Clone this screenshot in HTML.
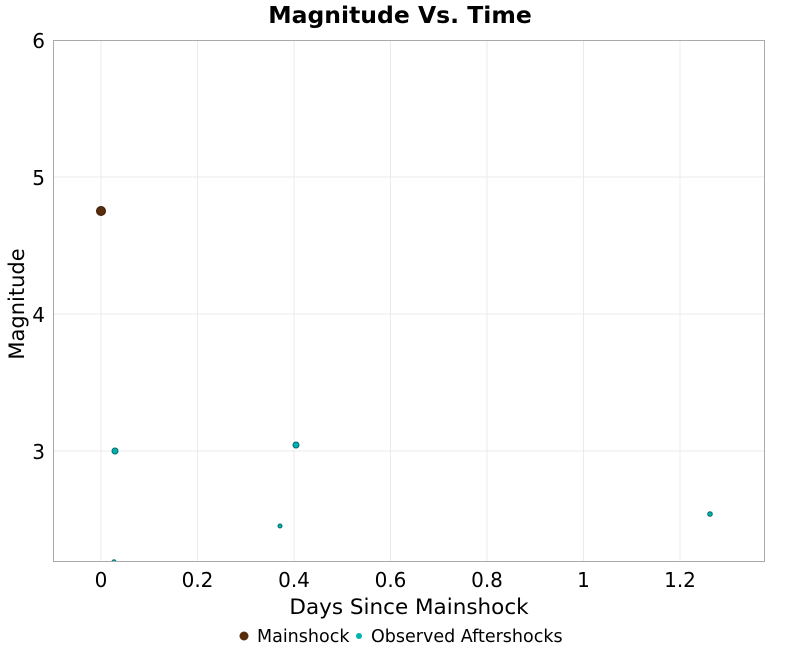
<!DOCTYPE html>
<html><head><style>body{margin:0;background:#fff}svg{display:block}</style></head><body>
<svg width="800" height="650" xmlns="http://www.w3.org/2000/svg" font-family="DejaVu Sans, Liberation Sans, sans-serif">
<rect width="800" height="650" fill="#fff"/>
<text x="400" y="23" text-anchor="middle" font-size="23.5" font-weight="bold">Magnitude Vs. Time</text>
<g stroke="#ebebeb" stroke-width="1">
<line x1="101" y1="40" x2="101" y2="562"/><line x1="197.5" y1="40" x2="197.5" y2="562"/><line x1="294" y1="40" x2="294" y2="562"/><line x1="390.5" y1="40" x2="390.5" y2="562"/><line x1="487" y1="40" x2="487" y2="562"/><line x1="583.5" y1="40" x2="583.5" y2="562"/><line x1="680" y1="40" x2="680" y2="562"/>
<line x1="53" y1="177" x2="765" y2="177"/><line x1="53" y1="314" x2="765" y2="314"/><line x1="53" y1="451" x2="765" y2="451"/>
</g>
<svg x="53" y="40" width="712" height="522" overflow="hidden">
<g fill="#00b3b3" stroke="#006b6b" stroke-width="1">
<circle cx="62" cy="411" r="3"/><circle cx="243" cy="405" r="3"/><circle cx="227" cy="486" r="2"/><circle cx="61" cy="522" r="2.2"/><circle cx="657" cy="474" r="2.3"/>
</g>
<circle cx="48" cy="171" r="4.5" fill="#5a2d0a" stroke="#3a1a05"/>
</svg>
<rect x="53.5" y="40.5" width="711" height="521" fill="none" stroke="#aaa"/>
<g font-size="20" text-anchor="end">
<text x="45" y="48">6</text><text x="45" y="185">5</text><text x="45" y="322">4</text><text x="45" y="459">3</text>
</g>
<g font-size="20" text-anchor="middle">
<text x="101" y="587">0</text><text x="197.5" y="587">0.2</text><text x="294" y="587">0.4</text><text x="390.5" y="587">0.6</text><text x="487" y="587">0.8</text><text x="583.5" y="587">1</text><text x="680" y="587">1.2</text>
</g>
<text x="409" y="614" text-anchor="middle" font-size="21.5">Days Since Mainshock</text>
<text transform="translate(24,304) rotate(-90)" text-anchor="middle" font-size="21">Magnitude</text>
<circle cx="244" cy="636" r="4.5" fill="#5a2d0a"/>
<text x="257" y="642" font-size="17.5">Mainshock</text>
<circle cx="359" cy="636" r="3" fill="#00b3b3"/>
<text x="371" y="642" font-size="17.5">Observed Aftershocks</text>
</svg>
</body></html>
